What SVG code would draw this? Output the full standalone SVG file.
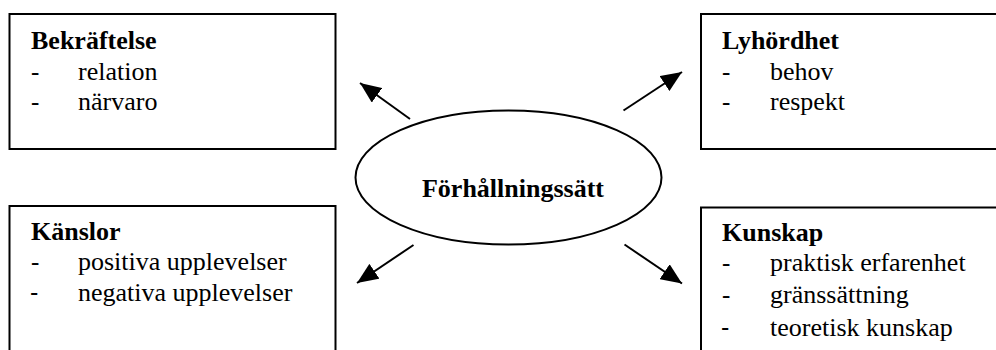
<svg xmlns="http://www.w3.org/2000/svg" width="996" height="350" viewBox="0 0 996 350">
  <style>
    .box { fill: #ffffff; stroke: #000000; stroke-width: 2; }
    .hub { fill: #ffffff; stroke: #000000; stroke-width: 2; }
    .title { font-family: "Liberation Serif", "Times New Roman", serif; font-size: 26px; font-weight: 700; fill: #000000; }
    .item { font-family: "Liberation Serif", "Times New Roman", serif; font-size: 26px; fill: #000000; }
    .dash { font-family: "Liberation Serif", "Times New Roman", serif; font-size: 25px; fill: #000000; }
    .dash-b { font-family: "Liberation Sans", Arial, sans-serif; font-size: 25px; fill: #000000; }
    .hub-label { font-family: "Liberation Serif", "Times New Roman", serif; font-size: 26px; font-weight: 700; fill: #000000; }
    .link { stroke: #000000; stroke-width: 2; fill: none; marker-end: url(#head); }
  </style>
  <defs>
    <marker id="head" viewBox="0 0 21 18" refX="21" refY="9" markerWidth="21" markerHeight="18" markerUnits="userSpaceOnUse" orient="auto">
      <path d="M0,0 L21,9 L0,18 Z" fill="#000000"/>
    </marker>
  </defs>

  <rect width="996" height="350" fill="#ffffff"/>

  <!-- top-left: Bekräftelse -->
  <g id="bekraftelse">
    <rect class="box" x="9.5" y="14" width="326" height="135"/>
    <text class="title" x="31" y="49">Bekräftelse</text>
    <text class="dash" x="31" y="80">-</text>
    <text class="item" x="78" y="80">relation</text>
    <text class="dash" x="31" y="110">-</text>
    <text class="item" x="78" y="110">närvaro</text>
  </g>

  <!-- top-right: Lyhördhet -->
  <g id="lyhordhet">
    <rect class="box" x="701" y="14" width="310" height="135"/>
    <text class="title" x="722" y="49">Lyhördhet</text>
    <text class="dash" x="722" y="80">-</text>
    <text class="item" x="770" y="80">behov</text>
    <text class="dash" x="722" y="110">-</text>
    <text class="item" x="770" y="110">respekt</text>
  </g>

  <!-- bottom-left: Känslor -->
  <g id="kanslor">
    <rect class="box" x="9.5" y="206" width="326" height="160"/>
    <text class="title" x="31" y="240">Känslor</text>
    <text class="dash" x="31" y="270">-</text>
    <text class="item" x="78" y="270">positiva upplevelser</text>
    <text class="dash-b" x="30" y="301">-</text>
    <text class="item" x="78" y="301">negativa upplevelser</text>
  </g>

  <!-- bottom-right: Kunskap -->
  <g id="kunskap">
    <rect class="box" x="701" y="207.5" width="310" height="160"/>
    <text class="title" x="722" y="241">Kunskap</text>
    <text class="dash" x="722" y="271">-</text>
    <text class="item" x="770" y="271">praktisk erfarenhet</text>
    <text class="dash" x="722" y="303">-</text>
    <text class="item" x="770" y="303">gränssättning</text>
    <text class="dash-b" x="721" y="336">-</text>
    <text class="item" x="770" y="336">teoretisk kunskap</text>
  </g>

  <!-- centre: Förhållningssätt -->
  <g id="forhallningssatt">
    <ellipse class="hub" cx="508.5" cy="177.5" rx="153" ry="67"/>
    <text class="hub-label" x="513" y="197" text-anchor="middle">Förhållningssätt</text>
  </g>

  <!-- connectors -->
  <g id="connectors">
    <line class="link" x1="410" y1="119" x2="360" y2="83"/>
    <line class="link" x1="623.5" y1="110.5" x2="682" y2="72"/>
    <line class="link" x1="413.5" y1="245" x2="357" y2="283"/>
    <line class="link" x1="624.5" y1="244.5" x2="682" y2="283.5"/>
  </g>
</svg>
